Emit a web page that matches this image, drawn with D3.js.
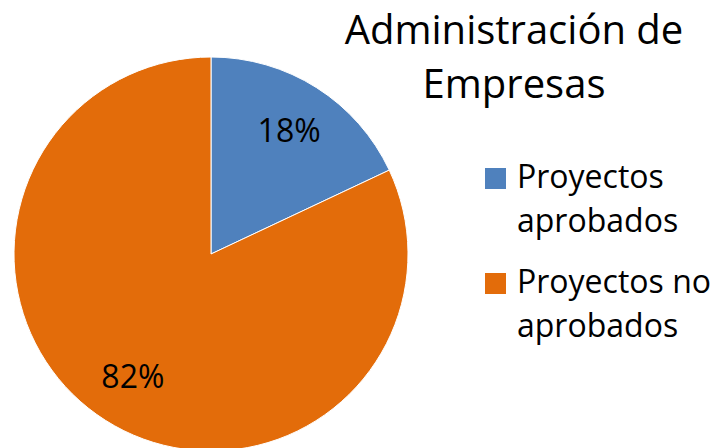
<!DOCTYPE html>
<html>
<head>
<meta charset="utf-8">
<script src="https://cdn.jsdelivr.net/npm/d3@7"></script>
<style>
  body { margin: 0; background: #fff; }
  svg text { font-family: "Open Sans", "Noto Sans", sans-serif; fill: #000; }
</style>
</head>
<body>
<svg id="chart" width="720" height="448"></svg>
<script>
// data
const categories = ["Proyectos aprobados", "Proyectos no aprobados"]
const values = [18, 82]
const colours = ["#4f81bd", "#e36c0a"]
const titleLines = ["Administración de", "Empresas"]
const legendLines = [["Proyectos", "aprobados"], ["Proyectos no", "aprobados"]]

const svg = d3.select("#chart")
const cx = 211, cy = 254, r = 197

const pie = d3.pie().sort(null).value(d => d)
const arc = d3.arc().innerRadius(0).outerRadius(r)
const labelArc = d3.arc().innerRadius(r * 0.74).outerRadius(r * 0.74)

const g = svg.append("g")
  .attr("transform", "translate(" + cx + "," + cy + ")")

const arcs = pie(values)

g.selectAll("path")
  .data(arcs)
  .join("path")
  .attr("d", arc)
  .attr("fill", (d, i) => colours[i])
  .attr("stroke", "#fff")
  .attr("stroke-width", 1)

// percentage labels
g.selectAll("text.pct")
  .data(arcs)
  .join("text")
  .attr("class", "pct")
  .attr("transform", d => "translate(" + labelArc.centroid(d) + ")")
  .attr("text-anchor", "middle")
  .attr("dy", "0.35em")
  .style("font-size", "32px")
  .text(d => d.data + "%")

// title
svg.append("g").selectAll("text")
  .data(titleLines)
  .join("text")
  .attr("x", 514)
  .attr("y", (d, i) => 44 + i * 54)
  .attr("text-anchor", "middle")
  .style("font-size", "40px")
  .text(d => d)

// legend
const leg = svg.append("g")
const legY = [168, 273]
categories.forEach((c, i) => {
  leg.append("rect")
    .attr("x", 485)
    .attr("y", legY[i])
    .attr("width", 21)
    .attr("height", 21)
    .attr("fill", colours[i])
  legendLines[i].forEach((t, j) => {
    leg.append("text")
      .attr("x", 517)
      .attr("y", legY[i] + 20 + j * 44)
      .style("font-size", "32px")
      .text(t)
  })
})
</script>
</body>
</html>
